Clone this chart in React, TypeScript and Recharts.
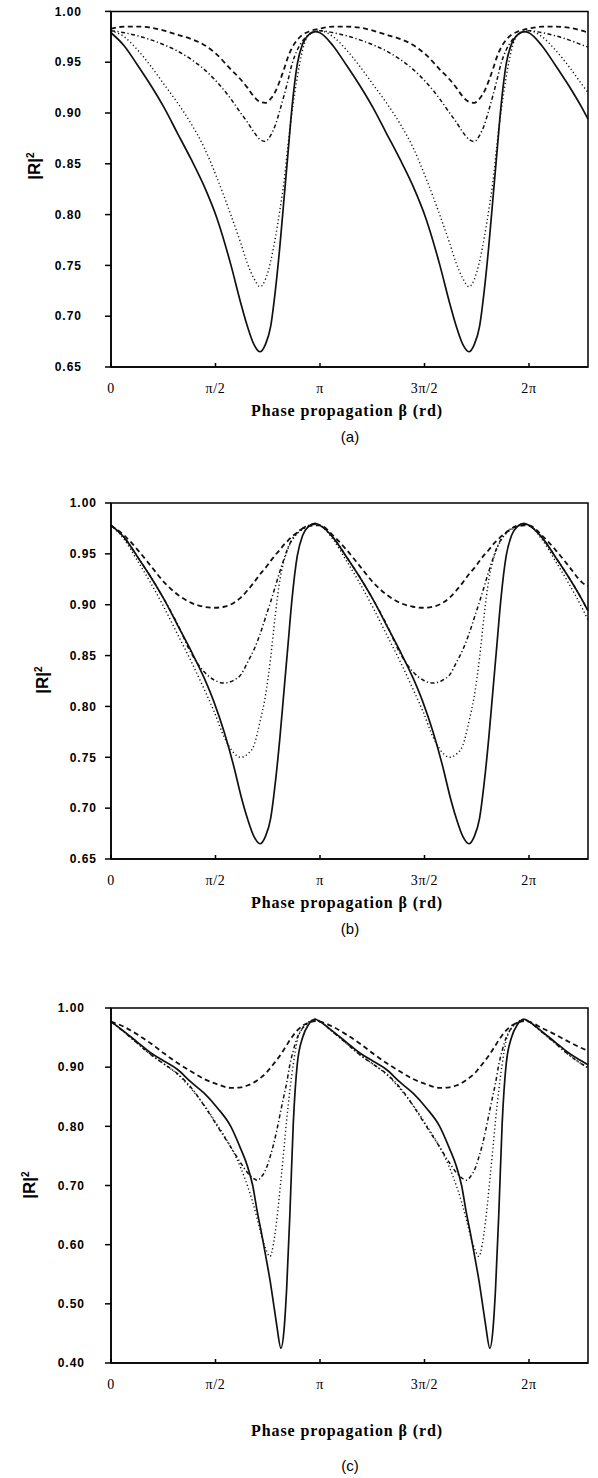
import { LineChart, Line, XAxis, YAxis, ReferenceArea } from "recharts";

// phase propagation β (rad) sample points, one grid per panel
const BETA_A = [
  0, 0.2, 0.4, 0.6, 0.8, 1.0, 1.2, 1.4, 1.6, 1.8, 1.95, 2.05, 2.15, 2.24, 2.32, 2.4, 2.47, 2.54, 2.6, 2.66, 2.72, 2.8, 2.88, 2.97, 3.07,
  3.14, 3.34, 3.54, 3.74, 3.94, 4.14, 4.34, 4.54, 4.74, 4.94, 5.09, 5.19, 5.29, 5.38, 5.46, 5.54, 5.61, 5.68, 5.74, 5.8, 5.86, 5.94, 6.02, 6.11, 6.21,
  6.28, 6.48, 6.68, 6.88, 7.08, 7.17,
];
const SOLID_A = [
  0.979, 0.966, 0.947, 0.927, 0.905, 0.880, 0.855, 0.828, 0.795, 0.751, 0.713, 0.690, 0.672, 0.665, 0.672, 0.690, 0.725, 0.770, 0.815, 0.860, 0.905, 0.948, 0.968, 0.977, 0.980,
  0.979, 0.966, 0.947, 0.927, 0.905, 0.880, 0.855, 0.828, 0.795, 0.751, 0.713, 0.690, 0.672, 0.665, 0.672, 0.690, 0.725, 0.770, 0.815, 0.860, 0.905, 0.948, 0.968, 0.977, 0.980,
  0.979, 0.966, 0.947, 0.927, 0.905, 0.894,
];
const DOTTED_A = [
  0.981, 0.975, 0.962, 0.946, 0.928, 0.910, 0.890, 0.866, 0.835, 0.800, 0.772, 0.752, 0.737, 0.729, 0.736, 0.754, 0.777, 0.805, 0.832, 0.868, 0.900, 0.935, 0.962, 0.977, 0.980,
  0.981, 0.975, 0.962, 0.946, 0.928, 0.910, 0.890, 0.866, 0.835, 0.800, 0.772, 0.752, 0.737, 0.729, 0.736, 0.754, 0.777, 0.805, 0.832, 0.868, 0.900, 0.935, 0.962, 0.977, 0.980,
  0.981, 0.975, 0.962, 0.946, 0.928, 0.920,
];
const DASHDOT_A = [
  0.981, 0.979, 0.976, 0.972, 0.967, 0.961, 0.953, 0.943, 0.930, 0.914, 0.900, 0.891, 0.881, 0.874, 0.872, 0.878, 0.888, 0.903, 0.917, 0.932, 0.948, 0.962, 0.971, 0.977, 0.980,
  0.981, 0.979, 0.976, 0.972, 0.967, 0.961, 0.953, 0.943, 0.930, 0.914, 0.900, 0.891, 0.881, 0.874, 0.872, 0.878, 0.888, 0.903, 0.917, 0.932, 0.948, 0.962, 0.971, 0.977, 0.980,
  0.981, 0.979, 0.976, 0.972, 0.967, 0.965,
];
const DASHED_A = [
  0.983, 0.985, 0.985, 0.984, 0.981, 0.977, 0.973, 0.967, 0.957, 0.943, 0.933, 0.925, 0.916, 0.911, 0.910, 0.914, 0.921, 0.932, 0.943, 0.955, 0.964, 0.972, 0.977, 0.980, 0.982,
  0.983, 0.985, 0.985, 0.984, 0.981, 0.977, 0.973, 0.967, 0.957, 0.943, 0.933, 0.925, 0.916, 0.911, 0.910, 0.914, 0.921, 0.932, 0.943, 0.955, 0.964, 0.972, 0.977, 0.980, 0.982,
  0.983, 0.985, 0.985, 0.984, 0.981, 0.979,
];

const BETA_B = [
  0, 0.2, 0.4, 0.6, 0.8, 1.0, 1.2, 1.4, 1.55, 1.7, 1.85, 1.95, 2.05, 2.15, 2.24, 2.32, 2.4, 2.47, 2.54, 2.6, 2.66, 2.72, 2.8, 2.88, 2.97, 3.07,
  3.14, 3.34, 3.54, 3.74, 3.94, 4.14, 4.34, 4.54, 4.69, 4.84, 4.99, 5.09, 5.19, 5.29, 5.38, 5.46, 5.54, 5.61, 5.68, 5.74, 5.8, 5.86, 5.94, 6.02, 6.11, 6.21,
  6.28, 6.48, 6.68, 6.88, 7.08, 7.17,
];
const SOLID_B = [
  0.978, 0.966, 0.947, 0.927, 0.905, 0.880, 0.855, 0.828, 0.804, 0.775, 0.740, 0.713, 0.690, 0.672, 0.665, 0.672, 0.690, 0.725, 0.770, 0.815, 0.860, 0.905, 0.948, 0.968, 0.977, 0.980,
  0.978, 0.966, 0.947, 0.927, 0.905, 0.880, 0.855, 0.828, 0.804, 0.775, 0.740, 0.713, 0.690, 0.672, 0.665, 0.672, 0.690, 0.725, 0.770, 0.815, 0.860, 0.905, 0.948, 0.968, 0.977, 0.980,
  0.978, 0.966, 0.947, 0.927, 0.905, 0.894,
];
const DOTTED_B = [
  0.978, 0.964, 0.943, 0.921, 0.897, 0.871, 0.845, 0.817, 0.795, 0.770, 0.754, 0.750, 0.753, 0.762, 0.785, 0.810, 0.848, 0.890, 0.925, 0.943, 0.955, 0.963, 0.970, 0.974, 0.977, 0.979,
  0.978, 0.964, 0.943, 0.921, 0.897, 0.871, 0.845, 0.817, 0.795, 0.770, 0.754, 0.750, 0.753, 0.762, 0.785, 0.810, 0.848, 0.890, 0.925, 0.943, 0.955, 0.963, 0.970, 0.974, 0.977, 0.979,
  0.978, 0.964, 0.943, 0.921, 0.897, 0.885,
];
const DASHDOT_B = [
  0.978, 0.966, 0.947, 0.927, 0.905, 0.881, 0.853, 0.834, 0.826, 0.823, 0.826, 0.831, 0.843, 0.856, 0.871, 0.887, 0.903, 0.918, 0.933, 0.945, 0.956, 0.964, 0.971, 0.975, 0.978, 0.979,
  0.978, 0.966, 0.947, 0.927, 0.905, 0.881, 0.853, 0.834, 0.826, 0.823, 0.826, 0.831, 0.843, 0.856, 0.871, 0.887, 0.903, 0.918, 0.933, 0.945, 0.956, 0.964, 0.971, 0.975, 0.978, 0.979,
  0.978, 0.966, 0.947, 0.927, 0.905, 0.894,
];
const DASHED_B = [
  0.978, 0.968, 0.954, 0.938, 0.922, 0.910, 0.902, 0.898, 0.897, 0.898, 0.902, 0.907, 0.914, 0.922, 0.930, 0.936, 0.943, 0.949, 0.954, 0.959, 0.963, 0.967, 0.971, 0.975, 0.977, 0.978,
  0.978, 0.968, 0.954, 0.938, 0.922, 0.910, 0.902, 0.898, 0.897, 0.898, 0.902, 0.907, 0.914, 0.922, 0.930, 0.936, 0.943, 0.949, 0.954, 0.959, 0.963, 0.967, 0.971, 0.975, 0.977, 0.978,
  0.978, 0.968, 0.954, 0.938, 0.922, 0.918,
];

const BETA_C = [
  0, 0.2, 0.4, 0.6, 0.8, 1.0, 1.2, 1.4, 1.6, 1.8, 1.95, 2.05, 2.13, 2.2, 2.27, 2.33, 2.39, 2.44, 2.49, 2.555, 2.6, 2.64, 2.69, 2.74, 2.8, 2.88, 2.97, 3.07,
  3.14, 3.34, 3.54, 3.74, 3.94, 4.14, 4.34, 4.54, 4.74, 4.94, 5.09, 5.19, 5.27, 5.34, 5.41, 5.47, 5.53, 5.58, 5.63, 5.695, 5.74, 5.78, 5.83, 5.88, 5.94, 6.02, 6.11, 6.21,
  6.28, 6.48, 6.68, 6.88, 7.08, 7.17,
];
const SOLID_C = [
  0.977, 0.960, 0.942, 0.924, 0.910, 0.896, 0.875, 0.856, 0.831, 0.800, 0.762, 0.733, 0.700, 0.655, 0.615, 0.578, 0.540, 0.503, 0.465, 0.425, 0.455, 0.525, 0.655, 0.805, 0.905, 0.950, 0.972, 0.981,
  0.977, 0.960, 0.942, 0.924, 0.910, 0.896, 0.875, 0.856, 0.831, 0.800, 0.762, 0.733, 0.700, 0.655, 0.615, 0.578, 0.540, 0.503, 0.465, 0.425, 0.455, 0.525, 0.655, 0.805, 0.905, 0.950, 0.972, 0.981,
  0.977, 0.960, 0.942, 0.924, 0.910, 0.904,
];
const DOTTED_C = [
  0.977, 0.959, 0.940, 0.921, 0.905, 0.888, 0.864, 0.836, 0.802, 0.765, 0.730, 0.700, 0.672, 0.643, 0.612, 0.592, 0.580, 0.600, 0.640, 0.710, 0.762, 0.810, 0.862, 0.905, 0.945, 0.966, 0.976, 0.981,
  0.977, 0.959, 0.940, 0.921, 0.905, 0.888, 0.864, 0.836, 0.802, 0.765, 0.730, 0.700, 0.672, 0.643, 0.612, 0.592, 0.580, 0.600, 0.640, 0.710, 0.762, 0.810, 0.862, 0.905, 0.945, 0.966, 0.976, 0.981,
  0.977, 0.959, 0.940, 0.921, 0.905, 0.898,
];
const DASHDOT_C = [
  0.977, 0.959, 0.940, 0.921, 0.905, 0.889, 0.866, 0.835, 0.800, 0.765, 0.738, 0.722, 0.713, 0.709, 0.716, 0.728, 0.748, 0.768, 0.792, 0.828, 0.852, 0.873, 0.905, 0.928, 0.950, 0.966, 0.975, 0.981,
  0.977, 0.959, 0.940, 0.921, 0.905, 0.889, 0.866, 0.835, 0.800, 0.765, 0.738, 0.722, 0.713, 0.709, 0.716, 0.728, 0.748, 0.768, 0.792, 0.828, 0.852, 0.873, 0.905, 0.928, 0.950, 0.966, 0.975, 0.981,
  0.977, 0.959, 0.940, 0.921, 0.905, 0.900,
];
const DASHED_C = [
  0.977, 0.968, 0.955, 0.940, 0.923, 0.907, 0.893, 0.880, 0.871, 0.865, 0.866, 0.869, 0.873, 0.878, 0.884, 0.890, 0.898, 0.905, 0.912, 0.922, 0.930, 0.937, 0.946, 0.954, 0.962, 0.970, 0.975, 0.978,
  0.977, 0.968, 0.955, 0.940, 0.923, 0.907, 0.893, 0.880, 0.871, 0.865, 0.866, 0.869, 0.873, 0.878, 0.884, 0.890, 0.898, 0.905, 0.912, 0.922, 0.930, 0.937, 0.946, 0.954, 0.962, 0.970, 0.975, 0.978,
  0.977, 0.966, 0.955, 0.943, 0.932, 0.928,
];

const X_DOMAIN = [0, 7.17];
const X_TICKS = [0, 1.5708, 3.1416, 4.7124, 6.2832];
const X_TICK_LABELS = ["0", "π/2", "π", "3π/2", "2π"];
const Y_TICKS_AB = [0.65, 0.7, 0.75, 0.8, 0.85, 0.9, 0.95, 1.0];
const Y_TICKS_C = [0.4, 0.5, 0.6, 0.7, 0.8, 0.9, 1.0];

const X_TITLE = "Phase propagation β (rd)";

// line styles: solid, dotted, dash-dot, dashed
const SERIES = [
  { key: "solid", dash: undefined, width: 1.7 },
  { key: "dotted", dash: "1.2 2.6", width: 1.4 },
  { key: "dashDot", dash: "4 2.5 1.2 2.5", width: 1.5 },
  { key: "dashed", dash: "5 3.5", width: 1.8 },
];

function buildRows(beta: number[], solid: number[], dotted: number[], dashDot: number[], dashed: number[]) {
  return beta.map((b, i) => ({ beta: b, solid: solid[i], dotted: dotted[i], dashDot: dashDot[i], dashed: dashed[i] }));
}

const PANELS = [
  {
    id: "a", top: 0, plotTop: 11.4, plotBottom: 367, yDomain: [0.65, 1.0], yTicks: Y_TICKS_AB, yGap: 23,
    rows: buildRows(BETA_A, SOLID_A, DOTTED_A, DASHDOT_A, DASHED_A),
    yTitle: [35, 166], xTitleY: 411, captionY: 436,
  },
  {
    id: "b", top: 490, plotTop: 503, plotBottom: 859, yDomain: [0.65, 1.0], yTicks: Y_TICKS_AB, yGap: 8,
    rows: buildRows(BETA_B, SOLID_B, DOTTED_B, DASHDOT_B, DASHED_B),
    yTitle: [43, 680], xTitleY: 903, captionY: 928,
  },
  {
    id: "c", top: 995, plotTop: 1008, plotBottom: 1363, yDomain: [0.4, 1.0], yTicks: Y_TICKS_C, yGap: 20,
    rows: buildRows(BETA_C, SOLID_C, DOTTED_C, DASHDOT_C, DASHED_C),
    yTitle: [30, 1185], xTitleY: 1431, captionY: 1465,
  },
];

const WIDTH = 598;
const PLOT_LEFT = 111;
const PLOT_RIGHT = 588;
const X_AXIS_H = 34;

function Panel({ p }: { p: (typeof PANELS)[number] }) {
  const height = p.plotBottom - p.top + X_AXIS_H;
  return (
    <div style={{ position: "absolute", left: 0, top: p.top }}>
      <LineChart
        width={WIDTH}
        height={height}
        data={p.rows}
        margin={{ top: p.plotTop - p.top, right: WIDTH - PLOT_RIGHT, left: 0, bottom: 0 }}
      >
        <XAxis
          dataKey="beta"
          type="number"
          domain={X_DOMAIN}
          ticks={X_TICKS}
          interval={0}
          height={X_AXIS_H}
          tickFormatter={(v) => X_TICK_LABELS[X_TICKS.indexOf(v)] ?? ""}
          stroke="#000"
          strokeWidth={1.5}
          tickSize={-4}
          tickMargin={20}
          tick={{ fill: "#000", stroke: "none", fontSize: 14, fontFamily: "'Liberation Serif', 'Times New Roman', serif", letterSpacing: 0.6 }}
        />
        <YAxis
          type="number"
          domain={p.yDomain}
          ticks={p.yTicks}
          interval={0}
          width={PLOT_LEFT}
          stroke="#000"
          strokeWidth={1.5}
          tickSize={6}
          tickMargin={p.yGap}
          tickFormatter={(v) => Number(v).toFixed(2)}
          tick={{ fill: "#000", fontSize: 12, fontWeight: "bold", fontFamily: "'Liberation Sans', Arial, sans-serif", letterSpacing: 1 }}
        />
        <ReferenceArea
          x1={X_DOMAIN[0]}
          x2={X_DOMAIN[1]}
          y1={p.yDomain[0]}
          y2={p.yDomain[1]}
          fill="none"
          stroke="#000"
          strokeWidth={1.5}
          ifOverflow="visible"
        />
        {SERIES.map((s) => (
          <Line
            key={s.key}
            type="monotone"
            dataKey={s.key}
            stroke="#111"
            strokeWidth={s.width}
            strokeDasharray={s.dash}
            dot={false}
            activeDot={false}
            isAnimationActive={false}
          />
        ))}
      </LineChart>
    </div>
  );
}

const centered = { position: "absolute" as const, transform: "translate(-50%, -50%)", whiteSpace: "nowrap" as const, color: "#000" };

export default function App() {
  return (
    <div style={{ position: "absolute", left: 0, top: 0, width: WIDTH, height: 1478, background: "#fff", overflow: "hidden" }}>
      {PANELS.map((p) => (
        <div key={p.id}>
          <Panel p={p} />
          <div
            style={{
              ...centered,
              left: p.yTitle[0],
              top: p.yTitle[1],
              transform: "translate(-50%, -50%) rotate(-90deg)",
              fontFamily: "'Liberation Sans', Arial, sans-serif",
              fontWeight: "bold",
              fontSize: 17,
            }}
          >
            |R|<sup style={{ fontSize: 10 }}>2</sup>
          </div>
          <div
            style={{
              ...centered,
              left: 347,
              top: p.xTitleY,
              fontFamily: "'Liberation Serif', 'Times New Roman', serif",
              fontWeight: "bold",
              fontSize: 16,
              letterSpacing: 0.9,
            }}
          >
            {X_TITLE}
          </div>
          <div
            style={{
              ...centered,
              left: 350,
              top: p.captionY,
              fontFamily: "'Liberation Sans', Arial, sans-serif",
              fontSize: 15,
            }}
          >
            ({p.id})
          </div>
        </div>
      ))}
    </div>
  );
}
